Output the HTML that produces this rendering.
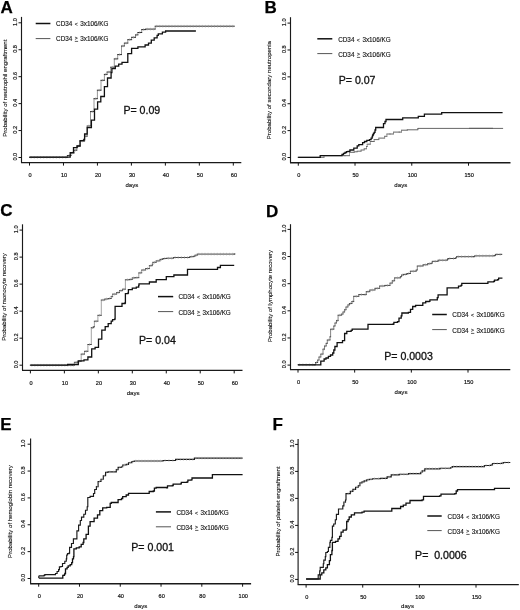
<!DOCTYPE html>
<html><head><meta charset="utf-8"><style>
html,body{margin:0;padding:0;background:#fff;}
svg{display:block;filter:grayscale(1);}
text{font-family:"Liberation Sans", sans-serif;}
</style></head><body>
<svg width="520" height="610" viewBox="0 0 520 610">
<rect width="520" height="610" fill="#fff"/>
<path d="M21.5,16.9 V162.6" fill="none" stroke="#1a1a1a" stroke-width="1.15"/>
<path d="M21,162.6 H241.3" fill="none" stroke="#1a1a1a" stroke-width="1.4"/>
<line x1="18.5" y1="157.5" x2="21.5" y2="157.5" stroke="#111" stroke-width="1"/>
<text x="14.6" y="156.7" transform="rotate(-90 14.6 156.7)" text-anchor="middle" dominant-baseline="central" font-size="5.6" fill="#111" stroke="#111" stroke-width="0.18">0.0</text>
<line x1="18.5" y1="130.56" x2="21.5" y2="130.56" stroke="#111" stroke-width="1"/>
<text x="14.6" y="129.76" transform="rotate(-90 14.6 129.76)" text-anchor="middle" dominant-baseline="central" font-size="5.6" fill="#111" stroke="#111" stroke-width="0.18">0.2</text>
<line x1="18.5" y1="103.62" x2="21.5" y2="103.62" stroke="#111" stroke-width="1"/>
<text x="14.6" y="102.82" transform="rotate(-90 14.6 102.82)" text-anchor="middle" dominant-baseline="central" font-size="5.6" fill="#111" stroke="#111" stroke-width="0.18">0.4</text>
<line x1="18.5" y1="76.68" x2="21.5" y2="76.68" stroke="#111" stroke-width="1"/>
<text x="14.6" y="75.88" transform="rotate(-90 14.6 75.88)" text-anchor="middle" dominant-baseline="central" font-size="5.6" fill="#111" stroke="#111" stroke-width="0.18">0.6</text>
<line x1="18.5" y1="49.74" x2="21.5" y2="49.74" stroke="#111" stroke-width="1"/>
<text x="14.6" y="48.94" transform="rotate(-90 14.6 48.94)" text-anchor="middle" dominant-baseline="central" font-size="5.6" fill="#111" stroke="#111" stroke-width="0.18">0.8</text>
<line x1="18.5" y1="22.8" x2="21.5" y2="22.8" stroke="#111" stroke-width="1"/>
<text x="14.6" y="22" transform="rotate(-90 14.6 22)" text-anchor="middle" dominant-baseline="central" font-size="5.6" fill="#111" stroke="#111" stroke-width="0.18">1.0</text>
<line x1="29.5" y1="162.6" x2="29.5" y2="165.6" stroke="#111" stroke-width="1"/>
<text x="30.1" y="174.7" text-anchor="middle" dominant-baseline="central" font-size="5.6" fill="#111" stroke="#111" stroke-width="0.18">0</text>
<line x1="63.47" y1="162.6" x2="63.47" y2="165.6" stroke="#111" stroke-width="1"/>
<text x="64.07" y="174.7" text-anchor="middle" dominant-baseline="central" font-size="5.6" fill="#111" stroke="#111" stroke-width="0.18">10</text>
<line x1="97.43" y1="162.6" x2="97.43" y2="165.6" stroke="#111" stroke-width="1"/>
<text x="98.03" y="174.7" text-anchor="middle" dominant-baseline="central" font-size="5.6" fill="#111" stroke="#111" stroke-width="0.18">20</text>
<line x1="131.4" y1="162.6" x2="131.4" y2="165.6" stroke="#111" stroke-width="1"/>
<text x="132" y="174.7" text-anchor="middle" dominant-baseline="central" font-size="5.6" fill="#111" stroke="#111" stroke-width="0.18">30</text>
<line x1="165.37" y1="162.6" x2="165.37" y2="165.6" stroke="#111" stroke-width="1"/>
<text x="165.97" y="174.7" text-anchor="middle" dominant-baseline="central" font-size="5.6" fill="#111" stroke="#111" stroke-width="0.18">40</text>
<line x1="199.33" y1="162.6" x2="199.33" y2="165.6" stroke="#111" stroke-width="1"/>
<text x="199.93" y="174.7" text-anchor="middle" dominant-baseline="central" font-size="5.6" fill="#111" stroke="#111" stroke-width="0.18">50</text>
<line x1="233.3" y1="162.6" x2="233.3" y2="165.6" stroke="#111" stroke-width="1"/>
<text x="233.9" y="174.7" text-anchor="middle" dominant-baseline="central" font-size="5.6" fill="#111" stroke="#111" stroke-width="0.18">60</text>
<text x="131.9" y="184.2" text-anchor="middle" dominant-baseline="central" font-size="6.1" fill="#111" stroke="#111" stroke-width="0.12">days</text>
<text x="4.6" y="88.2" transform="rotate(-90 4.6 88.2)" text-anchor="middle" dominant-baseline="central" font-size="6.05" fill="#111" stroke="#111" stroke-width="0.12">Probability of neutrophil engraftment</text>
<text x="0.5" y="13.3" font-size="17" font-weight="bold" fill="#000" stroke="#000" stroke-width="0.25">A</text>
<line x1="35.7" y1="23.5" x2="50.4" y2="23.5" stroke="#111" stroke-width="1.5"/>
<line x1="35.7" y1="38.6" x2="50.4" y2="38.6" stroke="#555" stroke-width="1"/>
<text x="56.1" y="26" font-size="6.35" fill="#1a1a1a" stroke="#1a1a1a" stroke-width="0.15">CD34</text>
<text x="74.7" y="25.7" font-size="5.2" fill="#1a1a1a" stroke="#1a1a1a" stroke-width="0.12">&lt;</text>
<text x="80.3" y="26" font-size="6.35" fill="#1a1a1a" stroke="#1a1a1a" stroke-width="0.15">3x106/KG</text>
<text x="56.1" y="41" font-size="6.35" fill="#1a1a1a" stroke="#1a1a1a" stroke-width="0.15">CD34</text>
<text x="74.8" y="40.4" font-size="5" fill="#1a1a1a" stroke="#1a1a1a" stroke-width="0.12">&gt;</text>
<path d="M74.8,41.4h3.3" stroke="#333" stroke-width="0.8"/>
<text x="80.3" y="41" font-size="6.35" fill="#1a1a1a" stroke="#1a1a1a" stroke-width="0.15">3x106/KG</text>
<text x="123.4" y="114" font-size="10.6" fill="#111" stroke="#111" stroke-width="0.3" xml:space="preserve">P= 0.09</text>
<path d="M67.4,157.3V155.5M71,155.5V153M74,153V150.2M76.8,150.2V146M80,146V141M84.6,141V136.2M87.2,136.2V126M90.5,126V111.6M94,111.6V98.7M97.4,98.7V90.2M101,90.2V80.3M104.4,80.3V74.4M107.1,74.4V72M110.7,72V67.2M114.3,67.2V58.9M117.7,58.9V54.6M121.5,54.6V46M124.4,46V43.1M127.8,43.1V39.7M131.6,39.7V37.3M135.5,37.3V34.9M137.9,34.9V32.5M141.7,32.5V29.6M145.6,29.6V29.1M155.2,29.1V26.2" fill="none" stroke="#8a8a8a" stroke-width="0.9"/>
<path d="M29.5,157.3H67.4M67.4,155.5H71M71,153H74M74,150.2H76.8M76.8,146H80M80,141H84.6M84.6,136.2H87.2M87.2,126H90.5M90.5,111.6H94M94,98.7H97.4M97.4,90.2H101M101,80.3H104.4M104.4,74.4H107.1M107.1,72H110.7M110.7,67.2H114.3M114.3,58.9H117.7M117.7,54.6H121.5M121.5,46H124.4M124.4,43.1H127.8M127.8,39.7H131.6M131.6,37.3H135.5M135.5,34.9H137.9M137.9,32.5H141.7M141.7,29.6H145.6M145.6,29.1H155.2M155.2,26.2H234.3" fill="none" stroke="#2a2a2a" stroke-width="1" stroke-linecap="square"/>
<path d="M31.08,156V158.6M34.24,156V158.6M37.4,156V158.6M40.55,156V158.6M43.71,156V158.6M46.87,156V158.6M50.03,156V158.6M53.19,156V158.6M56.35,156V158.6M59.5,156V158.6M62.66,156V158.6M65.82,156V158.6M69.2,154.2V156.8M72.5,151.7V154.3M75.4,148.9V151.5M78.4,144.7V147.3M82.3,139.7V142.3M85.9,134.9V137.5M88.85,124.7V127.3M92.25,110.3V112.9M95.7,97.4V100M99.2,88.9V91.5M102.7,79V81.6M105.75,73.1V75.7M108.9,70.7V73.3M112.5,65.9V68.5M116,57.6V60.2M119.6,53.3V55.9M122.95,44.7V47.3M126.1,41.8V44.4M129.7,38.4V41M133.55,36V38.6M136.7,33.6V36.2M139.8,31.2V33.8M143.65,28.3V30.9M147.2,27.8V30.4M150.4,27.8V30.4M153.6,27.8V30.4M156.72,24.9V27.5M159.76,24.9V27.5M162.81,24.9V27.5M165.85,24.9V27.5M168.89,24.9V27.5M171.93,24.9V27.5M174.97,24.9V27.5M178.02,24.9V27.5M181.06,24.9V27.5M184.1,24.9V27.5M187.14,24.9V27.5M190.19,24.9V27.5M193.23,24.9V27.5M196.27,24.9V27.5M199.31,24.9V27.5M202.36,24.9V27.5M205.4,24.9V27.5M208.44,24.9V27.5M211.48,24.9V27.5M214.53,24.9V27.5M217.57,24.9V27.5M220.61,24.9V27.5M223.65,24.9V27.5M226.69,24.9V27.5M229.74,24.9V27.5M232.78,24.9V27.5" fill="none" stroke="#999" stroke-width="0.6"/>
<polyline points="29.5,157.1 70.2,157.1 70.2,152.6 73.5,152.6 73.5,147.7 77.2,147.7 77.2,146 80.1,146 80.1,140.7 83.8,140.7 83.8,139.5 84.6,139.5 84.6,134 87.2,134 87.2,127.6 91.4,127.6 91.4,120.2 94.5,120.2 94.5,109.1 97.6,109.1 97.6,101.9 100.8,101.9 100.8,96.5 104.4,96.5 104.4,86.6 107.5,86.6 107.5,78 111.1,78 111.1,72.6 111.9,72.6 111.9,68.6 115.3,68.6 115.3,66.2 118.7,66.2 118.7,64.2 122,64.2 122,62.3 127.8,62.3 127.8,53.7 131.6,53.7 131.6,48.4 137.9,48.4 137.9,46.9 145.1,46.9 145.1,45 148.5,45 148.5,43.1 151.3,43.1 151.3,40.2 154.2,40.2 154.2,37.8 157.1,37.8 157.1,35.4 158.3,35.4 158.3,33.8 162.4,33.8 162.4,32.2 165.6,32.2 165.6,31 195.9,31" fill="none" stroke="#111" stroke-width="1.3"/>
<path d="M290.5,17.2 V162.7" fill="none" stroke="#1a1a1a" stroke-width="1.15"/>
<path d="M290,162.7 H510.5" fill="none" stroke="#1a1a1a" stroke-width="1.4"/>
<line x1="287.5" y1="157.5" x2="290.5" y2="157.5" stroke="#111" stroke-width="1"/>
<text x="283.6" y="156.7" transform="rotate(-90 283.6 156.7)" text-anchor="middle" dominant-baseline="central" font-size="5.6" fill="#111" stroke="#111" stroke-width="0.18">0.0</text>
<line x1="287.5" y1="130.62" x2="290.5" y2="130.62" stroke="#111" stroke-width="1"/>
<text x="283.6" y="129.82" transform="rotate(-90 283.6 129.82)" text-anchor="middle" dominant-baseline="central" font-size="5.6" fill="#111" stroke="#111" stroke-width="0.18">0.2</text>
<line x1="287.5" y1="103.74" x2="290.5" y2="103.74" stroke="#111" stroke-width="1"/>
<text x="283.6" y="102.94" transform="rotate(-90 283.6 102.94)" text-anchor="middle" dominant-baseline="central" font-size="5.6" fill="#111" stroke="#111" stroke-width="0.18">0.4</text>
<line x1="287.5" y1="76.86" x2="290.5" y2="76.86" stroke="#111" stroke-width="1"/>
<text x="283.6" y="76.06" transform="rotate(-90 283.6 76.06)" text-anchor="middle" dominant-baseline="central" font-size="5.6" fill="#111" stroke="#111" stroke-width="0.18">0.6</text>
<line x1="287.5" y1="49.98" x2="290.5" y2="49.98" stroke="#111" stroke-width="1"/>
<text x="283.6" y="49.18" transform="rotate(-90 283.6 49.18)" text-anchor="middle" dominant-baseline="central" font-size="5.6" fill="#111" stroke="#111" stroke-width="0.18">0.8</text>
<line x1="287.5" y1="23.1" x2="290.5" y2="23.1" stroke="#111" stroke-width="1"/>
<text x="283.6" y="22.3" transform="rotate(-90 283.6 22.3)" text-anchor="middle" dominant-baseline="central" font-size="5.6" fill="#111" stroke="#111" stroke-width="0.18">1.0</text>
<line x1="298.3" y1="162.7" x2="298.3" y2="165.7" stroke="#111" stroke-width="1"/>
<text x="298.9" y="174.7" text-anchor="middle" dominant-baseline="central" font-size="5.6" fill="#111" stroke="#111" stroke-width="0.18">0</text>
<line x1="355.03" y1="162.7" x2="355.03" y2="165.7" stroke="#111" stroke-width="1"/>
<text x="355.63" y="174.7" text-anchor="middle" dominant-baseline="central" font-size="5.6" fill="#111" stroke="#111" stroke-width="0.18">50</text>
<line x1="411.77" y1="162.7" x2="411.77" y2="165.7" stroke="#111" stroke-width="1"/>
<text x="412.37" y="174.7" text-anchor="middle" dominant-baseline="central" font-size="5.6" fill="#111" stroke="#111" stroke-width="0.18">100</text>
<line x1="468.5" y1="162.7" x2="468.5" y2="165.7" stroke="#111" stroke-width="1"/>
<text x="469.1" y="174.7" text-anchor="middle" dominant-baseline="central" font-size="5.6" fill="#111" stroke="#111" stroke-width="0.18">150</text>
<text x="400.8" y="184.6" text-anchor="middle" dominant-baseline="central" font-size="6.1" fill="#111" stroke="#111" stroke-width="0.12">days</text>
<text x="269.3" y="90.1" transform="rotate(-90 269.3 90.1)" text-anchor="middle" dominant-baseline="central" font-size="6.05" fill="#111" stroke="#111" stroke-width="0.12">Probability of secondary neutropenia</text>
<text x="264.5" y="13.3" font-size="17" font-weight="bold" fill="#000" stroke="#000" stroke-width="0.25">B</text>
<line x1="317.3" y1="38.8" x2="332.3" y2="38.8" stroke="#111" stroke-width="1.5"/>
<line x1="317.3" y1="53.6" x2="332.3" y2="53.6" stroke="#555" stroke-width="1"/>
<text x="338.2" y="42" font-size="6.35" fill="#1a1a1a" stroke="#1a1a1a" stroke-width="0.15">CD34</text>
<text x="356.8" y="41.7" font-size="5.2" fill="#1a1a1a" stroke="#1a1a1a" stroke-width="0.12">&lt;</text>
<text x="362.4" y="42" font-size="6.35" fill="#1a1a1a" stroke="#1a1a1a" stroke-width="0.15">3x106/KG</text>
<text x="338.2" y="57" font-size="6.35" fill="#1a1a1a" stroke="#1a1a1a" stroke-width="0.15">CD34</text>
<text x="356.9" y="56.4" font-size="5" fill="#1a1a1a" stroke="#1a1a1a" stroke-width="0.12">&gt;</text>
<path d="M356.9,57.4h3.3" stroke="#333" stroke-width="0.8"/>
<text x="362.4" y="57" font-size="6.35" fill="#1a1a1a" stroke="#1a1a1a" stroke-width="0.15">3x106/KG</text>
<text x="338.7" y="83.5" font-size="10.6" fill="#111" stroke="#111" stroke-width="0.3" xml:space="preserve">P= 0.07</text>
<path d="M469,128.4H493" stroke="#333" stroke-width="1.1"/>
<path d="M324,157.3V155.7M349.5,155.7V152.3M354.2,152.3V151.8M357.2,151.8V151.2M361.1,151.2V150M364.2,150V148.8M366.5,148.8V146.5M367.2,146.5V144.2M370.3,144.2V141.5M374.2,141.5V139.6M378.8,139.6V138.1M384.6,138.1V136.3M386.9,136.3V134M393.5,134V132.1M401.5,132.1V130.2M407.3,130.2V129.8M417.7,129.8V128.8M418.3,128.8V128.4" fill="none" stroke="#9a9a9a" stroke-width="0.9"/>
<path d="M298.1,157.3H324M324,155.7H345M345,155.7H349.5M349.5,152.3H354.2M354.2,151.8H357.2M357.2,151.2H361.1M361.1,150H364.2M364.2,148.8H366.5M366.5,146.5H367.2M367.2,144.2H370.3M370.3,141.5H374.2M374.2,139.6H378.8M378.8,138.1H384.6M384.6,136.3H386.9M386.9,134H390M390,134H393.5M393.5,132.1H399.2M399.2,132.1H401.5M401.5,130.2H407.3M407.3,129.8H417.7M417.7,128.8H418.3M418.3,128.4H502.6" fill="none" stroke="#666" stroke-width="1" stroke-linecap="square"/>
<polyline points="298.1,157.3 320.2,157.3 320.2,155.6 340.8,155.6 342,155.6 342,154.5 343.5,154.5 343.5,153.4 345,153.4 345,152.5 346.5,152.5 346.5,151.6 348,151.6 348,151.3 349.9,151.3 349.9,150 353.8,150 353.8,148.1 357.2,148.1 357.2,145.8 358.8,145.8 358.8,144.6 362.6,144.6 362.6,142.7 364.5,142.7 364.5,141.5 366.8,141.5 366.8,140.4 369.5,140.4 369.5,139.6 371.1,139.6 371.1,138.1 372.2,138.1 372.2,136.5 372.6,136.5 372.6,135 373.4,135 373.4,133.5 374.2,133.5 374.2,132.3 375,132.3 375,130 375.7,130 375.7,127.5 383,127.5 383.5,127.5 383.5,123.7 385,123.7 385,121.5 386,121.5 386,119.5 401.5,119.5 402.7,119.5 402.7,117.9 417.7,117.9 418.3,117.9 418.3,116.4 423.5,116.4 424.4,116.4 424.4,114.1 440.8,114.1 441.7,114.1 441.7,112.6 502.6,112.6" fill="none" stroke="#111" stroke-width="1.3"/>
<path d="M22.5,224.3 V370.4" fill="none" stroke="#1a1a1a" stroke-width="1.15"/>
<path d="M22,370.4 H242.5" fill="none" stroke="#1a1a1a" stroke-width="1.4"/>
<line x1="19.5" y1="365.2" x2="22.5" y2="365.2" stroke="#111" stroke-width="1"/>
<text x="16.4" y="364.4" transform="rotate(-90 16.4 364.4)" text-anchor="middle" dominant-baseline="central" font-size="5.6" fill="#111" stroke="#111" stroke-width="0.18">0.0</text>
<line x1="19.5" y1="338.18" x2="22.5" y2="338.18" stroke="#111" stroke-width="1"/>
<text x="16.4" y="337.38" transform="rotate(-90 16.4 337.38)" text-anchor="middle" dominant-baseline="central" font-size="5.6" fill="#111" stroke="#111" stroke-width="0.18">0.2</text>
<line x1="19.5" y1="311.16" x2="22.5" y2="311.16" stroke="#111" stroke-width="1"/>
<text x="16.4" y="310.36" transform="rotate(-90 16.4 310.36)" text-anchor="middle" dominant-baseline="central" font-size="5.6" fill="#111" stroke="#111" stroke-width="0.18">0.4</text>
<line x1="19.5" y1="284.14" x2="22.5" y2="284.14" stroke="#111" stroke-width="1"/>
<text x="16.4" y="283.34" transform="rotate(-90 16.4 283.34)" text-anchor="middle" dominant-baseline="central" font-size="5.6" fill="#111" stroke="#111" stroke-width="0.18">0.6</text>
<line x1="19.5" y1="257.12" x2="22.5" y2="257.12" stroke="#111" stroke-width="1"/>
<text x="16.4" y="256.32" transform="rotate(-90 16.4 256.32)" text-anchor="middle" dominant-baseline="central" font-size="5.6" fill="#111" stroke="#111" stroke-width="0.18">0.8</text>
<line x1="19.5" y1="230.1" x2="22.5" y2="230.1" stroke="#111" stroke-width="1"/>
<text x="16.4" y="229.3" transform="rotate(-90 16.4 229.3)" text-anchor="middle" dominant-baseline="central" font-size="5.6" fill="#111" stroke="#111" stroke-width="0.18">1.0</text>
<line x1="30.4" y1="370.4" x2="30.4" y2="373.4" stroke="#111" stroke-width="1"/>
<text x="31" y="382.8" text-anchor="middle" dominant-baseline="central" font-size="5.6" fill="#111" stroke="#111" stroke-width="0.18">0</text>
<line x1="64.37" y1="370.4" x2="64.37" y2="373.4" stroke="#111" stroke-width="1"/>
<text x="64.97" y="382.8" text-anchor="middle" dominant-baseline="central" font-size="5.6" fill="#111" stroke="#111" stroke-width="0.18">10</text>
<line x1="98.33" y1="370.4" x2="98.33" y2="373.4" stroke="#111" stroke-width="1"/>
<text x="98.93" y="382.8" text-anchor="middle" dominant-baseline="central" font-size="5.6" fill="#111" stroke="#111" stroke-width="0.18">20</text>
<line x1="132.3" y1="370.4" x2="132.3" y2="373.4" stroke="#111" stroke-width="1"/>
<text x="132.9" y="382.8" text-anchor="middle" dominant-baseline="central" font-size="5.6" fill="#111" stroke="#111" stroke-width="0.18">30</text>
<line x1="166.27" y1="370.4" x2="166.27" y2="373.4" stroke="#111" stroke-width="1"/>
<text x="166.87" y="382.8" text-anchor="middle" dominant-baseline="central" font-size="5.6" fill="#111" stroke="#111" stroke-width="0.18">40</text>
<line x1="200.23" y1="370.4" x2="200.23" y2="373.4" stroke="#111" stroke-width="1"/>
<text x="200.83" y="382.8" text-anchor="middle" dominant-baseline="central" font-size="5.6" fill="#111" stroke="#111" stroke-width="0.18">50</text>
<line x1="234.2" y1="370.4" x2="234.2" y2="373.4" stroke="#111" stroke-width="1"/>
<text x="234.8" y="382.8" text-anchor="middle" dominant-baseline="central" font-size="5.6" fill="#111" stroke="#111" stroke-width="0.18">60</text>
<text x="133.1" y="392.6" text-anchor="middle" dominant-baseline="central" font-size="6.1" fill="#111" stroke="#111" stroke-width="0.12">days</text>
<text x="3.7" y="297" transform="rotate(-90 3.7 297)" text-anchor="middle" dominant-baseline="central" font-size="6.05" fill="#111" stroke="#111" stroke-width="0.12">Probability of monocyte recovery</text>
<text x="0.3" y="216.3" font-size="17" font-weight="bold" fill="#000" stroke="#000" stroke-width="0.25">C</text>
<line x1="158" y1="296.6" x2="173.2" y2="296.6" stroke="#111" stroke-width="1.5"/>
<line x1="158" y1="311.6" x2="173.2" y2="311.6" stroke="#555" stroke-width="1"/>
<text x="178.4" y="299" font-size="6.35" fill="#1a1a1a" stroke="#1a1a1a" stroke-width="0.15">CD34</text>
<text x="197" y="298.7" font-size="5.2" fill="#1a1a1a" stroke="#1a1a1a" stroke-width="0.12">&lt;</text>
<text x="202.6" y="299" font-size="6.35" fill="#1a1a1a" stroke="#1a1a1a" stroke-width="0.15">3x106/KG</text>
<text x="178.4" y="315" font-size="6.35" fill="#1a1a1a" stroke="#1a1a1a" stroke-width="0.15">CD34</text>
<text x="197.1" y="314.4" font-size="5" fill="#1a1a1a" stroke="#1a1a1a" stroke-width="0.12">&gt;</text>
<path d="M197.1,315.4h3.3" stroke="#333" stroke-width="0.8"/>
<text x="202.6" y="315" font-size="6.35" fill="#1a1a1a" stroke="#1a1a1a" stroke-width="0.15">3x106/KG</text>
<text x="139" y="344.4" font-size="10.6" fill="#111" stroke="#111" stroke-width="0.3" xml:space="preserve">P= 0.04</text>
<path d="M74.4,365.2V362.3M78,362.3V361.3M81.2,361.3V354.1M84.5,354.1V351.3M87.9,351.3V344.5M91.3,344.5V327.7M93.7,327.7V326.7M94.4,326.7V321.2M97.9,321.2V315.3M101.3,315.3V314.8M101.3,314.8V300M104.8,300V299M108.2,299V298.5M111.2,298.5V296.6M112.6,296.6V294.1M116.6,294.1V292.6M119.5,292.6V290.7M122.5,290.7V289.2M125.4,289.2V288.2M125.4,288.2V279.8M129.4,279.8V279.4M132.3,279.4V277.9M135,277.9V277.7M138.8,277.7V272.9M141.7,272.9V270M145.6,270V268.6M149.4,268.6V265.7M152.3,265.7V264.2M152.8,264.2V262.3M156.2,262.3V260.9M160,260.9V259.4M162.9,259.4V258.5M166.7,258.5V258.2M173.5,258.2V257.5M189.8,257.5V256.7M193.8,256.7V256.2M195,256.2V255.2M197.3,255.2V254.1M234.8,254.1V253.3" fill="none" stroke="#999" stroke-width="0.9"/>
<path d="M30.3,365.2H72.3M72.3,365.2H74.4M74.4,362.3H78M78,361.3H81.2M81.2,354.1H84.5M84.5,351.3H87.9M87.9,344.5H91.3M91.3,327.7H93.7M93.7,326.7H94.4M94.4,321.2H97.9M97.9,315.3H101.3M101.3,300H104.8M104.8,299H108.2M108.2,298.5H111.2M111.2,296.6H112.6M112.6,294.1H116.6M116.6,292.6H119.5M119.5,290.7H122.5M122.5,289.2H125.4M125.4,279.8H129.4M129.4,279.4H132.3M132.3,277.9H135M135,277.7H138.8M138.8,272.9H141.7M141.7,270H145.6M145.6,268.6H149.4M149.4,265.7H152.3M152.3,264.2H152.8M152.8,262.3H156.2M156.2,260.9H160M160,259.4H162.9M162.9,258.5H166.7M166.7,258.2H173.5M173.5,257.5H189.2M189.2,257.5H189.8M189.8,256.7H193.8M193.8,256.2H195M195,255.2H197.3M197.3,254.1H234.2M234.2,254.1H234.8" fill="none" stroke="#444" stroke-width="1" stroke-linecap="square"/>
<path d="M31.8,363.9V366.5M34.8,363.9V366.5M37.8,363.9V366.5M40.8,363.9V366.5M43.8,363.9V366.5M46.8,363.9V366.5M49.8,363.9V366.5M52.8,363.9V366.5M55.8,363.9V366.5M58.8,363.9V366.5M61.8,363.9V366.5M64.8,363.9V366.5M67.8,363.9V366.5M70.8,363.9V366.5M73.35,363.9V366.5M76.2,361V363.6M79.6,360V362.6M82.85,352.8V355.4M86.2,350V352.6M89.6,343.2V345.8M92.5,326.4V329M96.15,319.9V322.5M99.6,314V316.6M103.05,298.7V301.3M106.5,297.7V300.3M109.7,297.2V299.8M111.9,295.3V297.9M114.6,292.8V295.4M118.05,291.3V293.9M121,289.4V292M123.95,287.9V290.5M127.4,278.5V281.1M130.85,278.1V280.7M133.65,276.6V279.2M136.9,276.4V279M140.25,271.6V274.2M143.65,268.7V271.3M147.5,267.3V269.9M150.85,264.4V267M154.5,261V263.6M158.1,259.6V262.2M161.45,258.1V260.7M164.8,257.2V259.8M168.4,256.9V259.5M171.8,256.9V259.5M175.07,256.2V258.8M178.21,256.2V258.8M181.35,256.2V258.8M184.49,256.2V258.8M187.63,256.2V258.8M191.8,255.4V258M196.15,253.9V256.5M198.84,252.8V255.4M201.91,252.8V255.4M204.99,252.8V255.4M208.06,252.8V255.4M211.14,252.8V255.4M214.21,252.8V255.4M217.29,252.8V255.4M220.36,252.8V255.4M223.44,252.8V255.4M226.51,252.8V255.4M229.59,252.8V255.4M232.66,252.8V255.4" fill="none" stroke="#999" stroke-width="0.6"/>
<polyline points="30.3,365.2 67.7,365.2 67.7,364.5 78.3,364.5 78.3,360.9 84,360.9 84,359.9 87.9,359.9 87.9,358.5 87.9,357 91.7,357 91.7,348.8 95.1,348.8 95.1,347.4 98.5,347.4 98.5,339.2 101.8,339.2 101.8,330.1 104.5,330.1 105.2,330.1 105.2,326.7 107.7,326.7 108.2,326.7 108.2,323.6 111.2,323.6 111.2,321.2 112.6,321.2 112.6,319.7 114.6,319.7 114.6,319.2 115.1,319.2 115.1,306.4 121.5,306.4 122,306.4 122,303.5 124.9,303.5 124.9,303 125.4,303 125.4,293.6 127.9,293.6 127.9,293.1 128.4,293.1 128.4,289.7 132.3,289.7 132.3,288.2 136.3,288.2 136.3,287.2 138.7,287.2 138.7,285.3 139,285.3 139,283.9 148.9,283.9 149.4,283.9 149.4,282 155.7,282 156.2,282 156.2,279.6 165.8,279.6 166.3,279.6 166.3,276.7 173.5,276.7 173.9,276.7 173.9,275 187.5,275 187.5,274.8 187.5,269.4 217.5,269.4 217.5,267.5 220.4,267.5 220.4,265.4 234.2,265.4" fill="none" stroke="#111" stroke-width="1.3"/>
<path d="M290.5,224.2 V369.6" fill="none" stroke="#1a1a1a" stroke-width="1.15"/>
<path d="M290,369.6 H510.3" fill="none" stroke="#1a1a1a" stroke-width="1.4"/>
<line x1="287.5" y1="365.1" x2="290.5" y2="365.1" stroke="#111" stroke-width="1"/>
<text x="283.8" y="364.3" transform="rotate(-90 283.8 364.3)" text-anchor="middle" dominant-baseline="central" font-size="5.6" fill="#111" stroke="#111" stroke-width="0.18">0.0</text>
<line x1="287.5" y1="337.96" x2="290.5" y2="337.96" stroke="#111" stroke-width="1"/>
<text x="283.8" y="337.16" transform="rotate(-90 283.8 337.16)" text-anchor="middle" dominant-baseline="central" font-size="5.6" fill="#111" stroke="#111" stroke-width="0.18">0.2</text>
<line x1="287.5" y1="310.82" x2="290.5" y2="310.82" stroke="#111" stroke-width="1"/>
<text x="283.8" y="310.02" transform="rotate(-90 283.8 310.02)" text-anchor="middle" dominant-baseline="central" font-size="5.6" fill="#111" stroke="#111" stroke-width="0.18">0.4</text>
<line x1="287.5" y1="283.68" x2="290.5" y2="283.68" stroke="#111" stroke-width="1"/>
<text x="283.8" y="282.88" transform="rotate(-90 283.8 282.88)" text-anchor="middle" dominant-baseline="central" font-size="5.6" fill="#111" stroke="#111" stroke-width="0.18">0.6</text>
<line x1="287.5" y1="256.54" x2="290.5" y2="256.54" stroke="#111" stroke-width="1"/>
<text x="283.8" y="255.74" transform="rotate(-90 283.8 255.74)" text-anchor="middle" dominant-baseline="central" font-size="5.6" fill="#111" stroke="#111" stroke-width="0.18">0.8</text>
<line x1="287.5" y1="229.4" x2="290.5" y2="229.4" stroke="#111" stroke-width="1"/>
<text x="283.8" y="228.6" transform="rotate(-90 283.8 228.6)" text-anchor="middle" dominant-baseline="central" font-size="5.6" fill="#111" stroke="#111" stroke-width="0.18">1.0</text>
<line x1="298" y1="369.6" x2="298" y2="372.6" stroke="#111" stroke-width="1"/>
<text x="298.6" y="382" text-anchor="middle" dominant-baseline="central" font-size="5.6" fill="#111" stroke="#111" stroke-width="0.18">0</text>
<line x1="354.67" y1="369.6" x2="354.67" y2="372.6" stroke="#111" stroke-width="1"/>
<text x="355.27" y="382" text-anchor="middle" dominant-baseline="central" font-size="5.6" fill="#111" stroke="#111" stroke-width="0.18">50</text>
<line x1="411.33" y1="369.6" x2="411.33" y2="372.6" stroke="#111" stroke-width="1"/>
<text x="411.93" y="382" text-anchor="middle" dominant-baseline="central" font-size="5.6" fill="#111" stroke="#111" stroke-width="0.18">100</text>
<line x1="468" y1="369.6" x2="468" y2="372.6" stroke="#111" stroke-width="1"/>
<text x="468.6" y="382" text-anchor="middle" dominant-baseline="central" font-size="5.6" fill="#111" stroke="#111" stroke-width="0.18">150</text>
<text x="401" y="391.7" text-anchor="middle" dominant-baseline="central" font-size="6.1" fill="#111" stroke="#111" stroke-width="0.12">days</text>
<text x="269.8" y="296" transform="rotate(-90 269.8 296)" text-anchor="middle" dominant-baseline="central" font-size="6.05" fill="#111" stroke="#111" stroke-width="0.12">Probability of lymphocyte recovery</text>
<text x="265.9" y="216.5" font-size="17" font-weight="bold" fill="#000" stroke="#000" stroke-width="0.25">D</text>
<line x1="432.2" y1="314.5" x2="446.8" y2="314.5" stroke="#111" stroke-width="1.5"/>
<line x1="432.2" y1="329.6" x2="446.8" y2="329.6" stroke="#555" stroke-width="1"/>
<text x="452.3" y="317" font-size="6.35" fill="#1a1a1a" stroke="#1a1a1a" stroke-width="0.15">CD34</text>
<text x="470.9" y="316.7" font-size="5.2" fill="#1a1a1a" stroke="#1a1a1a" stroke-width="0.12">&lt;</text>
<text x="476.5" y="317" font-size="6.35" fill="#1a1a1a" stroke="#1a1a1a" stroke-width="0.15">3x106/KG</text>
<text x="452.3" y="333" font-size="6.35" fill="#1a1a1a" stroke="#1a1a1a" stroke-width="0.15">CD34</text>
<text x="471" y="332.4" font-size="5" fill="#1a1a1a" stroke="#1a1a1a" stroke-width="0.12">&gt;</text>
<path d="M471,333.4h3.3" stroke="#333" stroke-width="0.8"/>
<text x="476.5" y="333" font-size="6.35" fill="#1a1a1a" stroke="#1a1a1a" stroke-width="0.15">3x106/KG</text>
<text x="384.2" y="360" font-size="10.6" fill="#111" stroke="#111" stroke-width="0.3" xml:space="preserve">P= 0.0003</text>
<path d="M315.5,364.8V362.5M317.6,362.5V360.1M319,360.1V357M320.8,357V354.1M323,354.1V349.2M324.5,349.2V346M326.2,346V343.3M327.3,343.3V340M330,340V336.8M330.6,336.8V329.2M333.8,329.2V326M335,326V323M336.5,323V320.6M338.1,320.6V315.2M341.4,315.2V314.1M343,314.1V312M344.6,312V309.7M346,309.7V307M347.9,307V304.9M349.5,304.9V303.5M351.9,303.5V301.5M353.7,301.5V296.3M358.8,296.3V294.6M366.3,294.6V291.7M369.8,291.7V290M375,290V288.3M379.6,288.3V286M384.8,286V285.4M390,285.4V283.1M392.3,283.1V280.8M394.6,280.8V277.9M400.4,277.9V276.7M401.5,276.7V275M403.5,275V274.4M406.9,274.4V273.5M410.4,273.5V271.2M416.2,271.2V270M417.3,270V266M423.1,266V264.8M427.7,264.8V263.7M431.2,263.7V263.1M432.3,263.1V261.3M438.1,261.3V260.2M447.3,260.2V259.6M447.9,259.6V258.5M455.4,258.5V257.9M456.5,257.9V256.7M474.6,256.7V255.9M494.2,255.9V255.6M495.4,255.6V254.4M501.7,254.4V253.8" fill="none" stroke="#777" stroke-width="0.9"/>
<path d="M298,364.8H314.3M314.3,364.8H315.5M315.5,362.5H317.6M317.6,360.1H319M319,357H320.8M320.8,354.1H323M323,349.2H324.5M324.5,346H326.2M326.2,343.3H327.3M327.3,340H330M330,336.8H330.6M330.6,329.2H333.8M333.8,326H335M335,323H336.5M336.5,320.6H338.1M338.1,315.2H341.4M341.4,314.1H343M343,312H344.6M344.6,309.7H346M346,307H347.9M347.9,304.9H349.5M349.5,303.5H351.9M351.9,301.5H353.7M353.7,296.3H358.8M358.8,294.6H364M364,294.6H366.3M366.3,291.7H369.8M369.8,290H375M375,288.3H379.6M379.6,286H384.8M384.8,285.4H390M390,283.1H392.3M392.3,280.8H394.6M394.6,277.9H400.4M400.4,276.7H401.5M401.5,275H403.5M403.5,274.4H406.9M406.9,273.5H410.4M410.4,271.2H416.2M416.2,270H417.3M417.3,266H423.1M423.1,264.8H427.7M427.7,263.7H431.2M431.2,263.1H432.3M432.3,261.3H438.1M438.1,260.2H447.3M447.3,259.6H447.9M447.9,258.5H455.4M455.4,257.9H456.5M456.5,256.7H473.5M473.5,256.7H474.6M474.6,255.9H494.2M494.2,255.6H495.4M495.4,254.4H501.7" fill="none" stroke="#444" stroke-width="1" stroke-linecap="square"/>
<path d="M299.63,363.5V366.1M302.89,363.5V366.1M306.15,363.5V366.1M309.41,363.5V366.1M312.67,363.5V366.1M316.55,361.2V363.8M318.3,358.8V361.4M319.9,355.7V358.3M321.9,352.8V355.4M323.75,347.9V350.5M325.35,344.7V347.3M328.65,338.7V341.3M332.2,327.9V330.5M335.75,321.7V324.3M337.3,319.3V321.9M339.75,313.9V316.5M342.2,312.8V315.4M343.8,310.7V313.3M345.3,308.4V311M346.95,305.7V308.3M348.7,303.6V306.2M350.7,302.2V304.8M352.8,300.2V302.8M356.25,295V297.6M361.4,293.3V295.9M365.15,293.3V295.9M368.05,290.4V293M372.4,288.7V291.3M377.3,287V289.6M382.2,284.7V287.3M387.4,284.1V286.7M391.15,281.8V284.4M393.45,279.5V282.1M397.5,276.6V279.2M402.5,273.7V276.3M405.2,273.1V275.7M408.65,272.2V274.8M413.3,269.9V272.5M420.2,264.7V267.3M425.4,263.5V266.1M429.45,262.4V265M435.2,260V262.6M439.63,258.9V261.5M442.7,258.9V261.5M445.77,258.9V261.5M449.77,257.2V259.8M453.52,257.2V259.8M458.2,255.4V258M461.6,255.4V258M465,255.4V258M468.4,255.4V258M471.8,255.4V258M476.23,254.6V257.2M479.5,254.6V257.2M482.77,254.6V257.2M486.03,254.6V257.2M489.3,254.6V257.2M492.57,254.6V257.2M496.97,253.1V255.7M500.12,253.1V255.7" fill="none" stroke="#999" stroke-width="0.6"/>
<polyline points="298,364.8 318.7,364.8 320.8,364.8 320.8,361.1 324.1,361.1 324.1,359 326,359 326,358 328.4,358 328.4,356.3 330.5,356.3 330.5,355 332.7,355 332.7,353 333.8,353 333.8,350 334.9,350 334.9,346.5 337.1,346.5 337.1,342.7 342.5,342.7 342.5,340.6 344.6,340.6 344.6,333.5 346.8,333.5 346.8,331.4 351.1,331.4 351.1,330.3 352.2,330.3 352.2,329.2 365.8,329.2 368,329.2 368,324.4 393.2,324.4 393.2,324 393.9,324 393.9,322.4 397.5,322.4 397.5,321.7 399,321.7 399,318.1 401.2,318.1 401.2,315.9 401.9,315.9 401.9,313 408.4,313 408.4,312.3 410.5,312.3 410.5,309.4 412.7,309.4 412.7,306.5 415.6,306.5 415.6,305.4 421.3,305.4 422.8,305.4 422.8,302.9 425.7,302.9 425.7,301.5 429.1,301.5 429.1,301.3 429.9,301.3 429.9,299.8 436.4,299.8 437.3,299.8 437.3,297.7 438.1,297.7 438.1,294.9 446.2,294.9 447.1,294.9 447.1,287.9 457.7,287.9 458.5,287.9 458.5,286.2 461,286.2 461,285.4 461.8,285.4 461.8,283.3 487.1,283.3 487.9,283.3 487.9,281.8 493.7,281.8 493.7,281.3 494.5,281.3 494.5,280.2 497.7,280.2 497.7,279.7 498.6,279.7 498.6,278.1 501.8,278.1 501.8,277.6" fill="none" stroke="#111" stroke-width="1.3"/>
<path d="M30.6,438.5 V583.7" fill="none" stroke="#1a1a1a" stroke-width="1.15"/>
<path d="M30.1,583.7 H251.1" fill="none" stroke="#1a1a1a" stroke-width="1.4"/>
<line x1="27.6" y1="578.5" x2="30.6" y2="578.5" stroke="#111" stroke-width="1"/>
<text x="22.8" y="577.7" transform="rotate(-90 22.8 577.7)" text-anchor="middle" dominant-baseline="central" font-size="5.6" fill="#111" stroke="#111" stroke-width="0.18">0.0</text>
<line x1="27.6" y1="551.64" x2="30.6" y2="551.64" stroke="#111" stroke-width="1"/>
<text x="22.8" y="550.84" transform="rotate(-90 22.8 550.84)" text-anchor="middle" dominant-baseline="central" font-size="5.6" fill="#111" stroke="#111" stroke-width="0.18">0.2</text>
<line x1="27.6" y1="524.78" x2="30.6" y2="524.78" stroke="#111" stroke-width="1"/>
<text x="22.8" y="523.98" transform="rotate(-90 22.8 523.98)" text-anchor="middle" dominant-baseline="central" font-size="5.6" fill="#111" stroke="#111" stroke-width="0.18">0.4</text>
<line x1="27.6" y1="497.92" x2="30.6" y2="497.92" stroke="#111" stroke-width="1"/>
<text x="22.8" y="497.12" transform="rotate(-90 22.8 497.12)" text-anchor="middle" dominant-baseline="central" font-size="5.6" fill="#111" stroke="#111" stroke-width="0.18">0.6</text>
<line x1="27.6" y1="471.06" x2="30.6" y2="471.06" stroke="#111" stroke-width="1"/>
<text x="22.8" y="470.26" transform="rotate(-90 22.8 470.26)" text-anchor="middle" dominant-baseline="central" font-size="5.6" fill="#111" stroke="#111" stroke-width="0.18">0.8</text>
<line x1="27.6" y1="444.2" x2="30.6" y2="444.2" stroke="#111" stroke-width="1"/>
<text x="22.8" y="443.4" transform="rotate(-90 22.8 443.4)" text-anchor="middle" dominant-baseline="central" font-size="5.6" fill="#111" stroke="#111" stroke-width="0.18">1.0</text>
<line x1="38.7" y1="583.7" x2="38.7" y2="586.7" stroke="#111" stroke-width="1"/>
<text x="39.3" y="596.4" text-anchor="middle" dominant-baseline="central" font-size="5.6" fill="#111" stroke="#111" stroke-width="0.18">0</text>
<line x1="79.48" y1="583.7" x2="79.48" y2="586.7" stroke="#111" stroke-width="1"/>
<text x="80.08" y="596.4" text-anchor="middle" dominant-baseline="central" font-size="5.6" fill="#111" stroke="#111" stroke-width="0.18">20</text>
<line x1="120.26" y1="583.7" x2="120.26" y2="586.7" stroke="#111" stroke-width="1"/>
<text x="120.86" y="596.4" text-anchor="middle" dominant-baseline="central" font-size="5.6" fill="#111" stroke="#111" stroke-width="0.18">40</text>
<line x1="161.04" y1="583.7" x2="161.04" y2="586.7" stroke="#111" stroke-width="1"/>
<text x="161.64" y="596.4" text-anchor="middle" dominant-baseline="central" font-size="5.6" fill="#111" stroke="#111" stroke-width="0.18">60</text>
<line x1="201.82" y1="583.7" x2="201.82" y2="586.7" stroke="#111" stroke-width="1"/>
<text x="202.42" y="596.4" text-anchor="middle" dominant-baseline="central" font-size="5.6" fill="#111" stroke="#111" stroke-width="0.18">80</text>
<line x1="242.6" y1="583.7" x2="242.6" y2="586.7" stroke="#111" stroke-width="1"/>
<text x="243.2" y="596.4" text-anchor="middle" dominant-baseline="central" font-size="5.6" fill="#111" stroke="#111" stroke-width="0.18">100</text>
<text x="140.8" y="605.4" text-anchor="middle" dominant-baseline="central" font-size="6.1" fill="#111" stroke="#111" stroke-width="0.12">days</text>
<text x="9.7" y="511.5" transform="rotate(-90 9.7 511.5)" text-anchor="middle" dominant-baseline="central" font-size="6.05" fill="#111" stroke="#111" stroke-width="0.12">Probability of hemoglobin recovery</text>
<text x="0.3" y="430.1" font-size="17" font-weight="bold" fill="#000" stroke="#000" stroke-width="0.25">E</text>
<line x1="155.9" y1="511.9" x2="171" y2="511.9" stroke="#111" stroke-width="1.5"/>
<line x1="155.9" y1="526.8" x2="171" y2="526.8" stroke="#555" stroke-width="1"/>
<text x="176.4" y="515" font-size="6.35" fill="#1a1a1a" stroke="#1a1a1a" stroke-width="0.15">CD34</text>
<text x="195" y="514.7" font-size="5.2" fill="#1a1a1a" stroke="#1a1a1a" stroke-width="0.12">&lt;</text>
<text x="200.6" y="515" font-size="6.35" fill="#1a1a1a" stroke="#1a1a1a" stroke-width="0.15">3x106/KG</text>
<text x="176.4" y="530" font-size="6.35" fill="#1a1a1a" stroke="#1a1a1a" stroke-width="0.15">CD34</text>
<text x="195.1" y="529.4" font-size="5" fill="#1a1a1a" stroke="#1a1a1a" stroke-width="0.12">&gt;</text>
<path d="M195.1,530.4h3.3" stroke="#333" stroke-width="0.8"/>
<text x="200.6" y="530" font-size="6.35" fill="#1a1a1a" stroke="#1a1a1a" stroke-width="0.15">3x106/KG</text>
<text x="131.3" y="551" font-size="10.6" fill="#111" stroke="#111" stroke-width="0.3" xml:space="preserve">P= 0.001</text>
<polyline points="38.8,578.1 38.8,575.7 38.8,575.8 44,575.8 44,575.4 44.8,575.4 44.8,574.6 54.8,574.6 55.5,574.6 55.5,573.5 57.1,573.5 57.1,571.5 58.6,571.5 58.6,569.6 59.4,569.6 59.4,566.9 60.9,566.9 60.9,566.5 62.5,566.5 62.5,563.5 64.8,563.5 64.8,561.2 66.3,561.2 66.3,558.8 66.7,558.8 66.7,555 67.5,555 67.5,553.6 69.1,553.6 69.1,553.1 69.6,553.1 69.6,547.3 71.5,547.3 71.5,543.5 73.4,543.5 73.4,538.9 76.9,538.9 76.9,530.8 78.6,530.8 78.6,525.1 80.3,525.1 80.3,520.5 81.5,520.5 81.5,517.1 83.8,517.1 83.8,514.2 85.5,514.2 85.5,510.2 87.2,510.2 87.2,506.7 87.8,506.7 87.8,497.5 90.1,497.5 90.1,496.4 93.5,496.4 93.5,493.5 94.7,493.5 94.7,489.5 96.4,489.5 96.4,486.6 98.1,486.6 98.1,481.5 101,481.5 101,479.2 103.3,479.2 103.3,475.7 105.6,475.7 105.6,472.3 107.9,472.3 107.9,471.9 115.8,471.9 116.3,471.9 116.3,469.6 118.1,469.6 118.1,467.3 121.5,467.3 121.5,466.7 122.7,466.7 122.7,465 126.2,465 126.2,464.4 128.5,464.4 128.5,462.7 131.9,462.7 131.9,461.5 134.2,461.5 134.2,461 161.9,461 163.1,461 163.1,460.5 174.8,460.5 175.6,460.5 175.6,459.4 191.2,459.4 194.4,459.4 194.4,458.1 242.6,458.1" fill="none" stroke="#1a1a1a" stroke-width="1.15"/>
<path d="M97.25,485.3V487.9M99.55,480.2V482.8M102.15,477.9V480.5M104.45,474.4V477M106.75,471V473.6M109.88,470.6V473.2M113.83,470.6V473.2M117.2,468.3V470.9M119.8,466V468.6M122.1,465.4V468M124.45,463.7V466.3M127.35,463.1V465.7M130.2,461.4V464M133.05,460.2V462.8M135.74,459.7V462.3M138.82,459.7V462.3M141.89,459.7V462.3M144.97,459.7V462.3M148.05,459.7V462.3M151.13,459.7V462.3M154.21,459.7V462.3M157.28,459.7V462.3M160.36,459.7V462.3M165.05,459.2V461.8M168.95,459.2V461.8M172.85,459.2V461.8M177.16,458.1V460.7M180.28,458.1V460.7M183.4,458.1V460.7M186.52,458.1V460.7M189.64,458.1V460.7M192.8,458.1V460.7M195.91,456.8V459.4M198.92,456.8V459.4M201.93,456.8V459.4M204.94,456.8V459.4M207.96,456.8V459.4M210.97,456.8V459.4M213.98,456.8V459.4M216.99,456.8V459.4M220.01,456.8V459.4M223.02,456.8V459.4M226.03,456.8V459.4M229.04,456.8V459.4M232.06,456.8V459.4M235.07,456.8V459.4M238.08,456.8V459.4M241.09,456.8V459.4" fill="none" stroke="#aaa" stroke-width="0.6"/>
<polyline points="38.8,578.1 62.5,578.1 62.8,578.1 62.8,575.4 64.4,575.4 64.4,574.6 64.8,574.6 64.8,573.5 65.5,573.5 65.5,568.8 67.1,568.8 67.1,567.3 68.2,567.3 68.2,565.8 70.2,565.8 70.2,564.6 71.7,564.6 71.7,562.7 72.5,562.7 72.5,558.8 73.5,558.8 73.5,556.7 73.9,556.7 73.9,548.8 76.3,548.8 76.3,547.8 79.2,547.8 79.2,546.8 81.2,546.8 81.2,544.4 83.1,544.4 83.1,542.5 83.8,542.5 83.8,538.9 86.1,538.9 86.1,534.3 88.4,534.3 88.4,526.2 90.1,526.2 90.1,521.6 94.1,521.6 94.1,518.2 97.5,518.2 97.5,514.8 99.8,514.8 99.8,510.7 102.7,510.7 102.7,507.9 106.7,507.9 106.7,507.3 110.2,507.3 110.2,503.3 111.3,503.3 111.3,502.5 116.9,502.5 118.1,502.5 118.1,499.6 121.5,499.6 121.5,498.5 122.7,498.5 122.7,496.7 125,496.7 126.2,496.7 126.2,495 128.5,495 128.5,493.3 148.1,493.3 149.2,493.3 149.2,491.5 153.3,491.5 153.3,491 154.4,491 154.4,488.1 156.2,488.1 156.2,487.5 165,487.5 166.6,487.5 166.6,487.8 167.5,487.8 167.5,485.9 172.4,485.9 172.4,485.5 173.2,485.5 173.2,484.2 180.5,484.2 180.5,483.9 181.3,483.9 181.3,482.3 187.1,482.3 187.1,481.8 187.9,481.8 187.9,480.1 191.2,480.1 191.2,479.8 192,479.8 192,478 212.4,478 212.4,474.7 242.6,474.7" fill="none" stroke="#111" stroke-width="1.3"/>
<path d="M298.1,439 V584.6" fill="none" stroke="#1a1a1a" stroke-width="1.15"/>
<path d="M297.6,584.6 H518.8" fill="none" stroke="#1a1a1a" stroke-width="1.4"/>
<line x1="295.1" y1="579.4" x2="298.1" y2="579.4" stroke="#111" stroke-width="1"/>
<text x="291.8" y="578.6" transform="rotate(-90 291.8 578.6)" text-anchor="middle" dominant-baseline="central" font-size="5.6" fill="#111" stroke="#111" stroke-width="0.18">0.0</text>
<line x1="295.1" y1="552.4" x2="298.1" y2="552.4" stroke="#111" stroke-width="1"/>
<text x="291.8" y="551.6" transform="rotate(-90 291.8 551.6)" text-anchor="middle" dominant-baseline="central" font-size="5.6" fill="#111" stroke="#111" stroke-width="0.18">0.2</text>
<line x1="295.1" y1="525.4" x2="298.1" y2="525.4" stroke="#111" stroke-width="1"/>
<text x="291.8" y="524.6" transform="rotate(-90 291.8 524.6)" text-anchor="middle" dominant-baseline="central" font-size="5.6" fill="#111" stroke="#111" stroke-width="0.18">0.4</text>
<line x1="295.1" y1="498.4" x2="298.1" y2="498.4" stroke="#111" stroke-width="1"/>
<text x="291.8" y="497.6" transform="rotate(-90 291.8 497.6)" text-anchor="middle" dominant-baseline="central" font-size="5.6" fill="#111" stroke="#111" stroke-width="0.18">0.6</text>
<line x1="295.1" y1="471.4" x2="298.1" y2="471.4" stroke="#111" stroke-width="1"/>
<text x="291.8" y="470.6" transform="rotate(-90 291.8 470.6)" text-anchor="middle" dominant-baseline="central" font-size="5.6" fill="#111" stroke="#111" stroke-width="0.18">0.8</text>
<line x1="295.1" y1="444.4" x2="298.1" y2="444.4" stroke="#111" stroke-width="1"/>
<text x="291.8" y="443.6" transform="rotate(-90 291.8 443.6)" text-anchor="middle" dominant-baseline="central" font-size="5.6" fill="#111" stroke="#111" stroke-width="0.18">1.0</text>
<line x1="306.1" y1="584.6" x2="306.1" y2="587.6" stroke="#111" stroke-width="1"/>
<text x="306.7" y="596.6" text-anchor="middle" dominant-baseline="central" font-size="5.6" fill="#111" stroke="#111" stroke-width="0.18">0</text>
<line x1="362.73" y1="584.6" x2="362.73" y2="587.6" stroke="#111" stroke-width="1"/>
<text x="363.33" y="596.6" text-anchor="middle" dominant-baseline="central" font-size="5.6" fill="#111" stroke="#111" stroke-width="0.18">50</text>
<line x1="419.37" y1="584.6" x2="419.37" y2="587.6" stroke="#111" stroke-width="1"/>
<text x="419.97" y="596.6" text-anchor="middle" dominant-baseline="central" font-size="5.6" fill="#111" stroke="#111" stroke-width="0.18">100</text>
<line x1="476" y1="584.6" x2="476" y2="587.6" stroke="#111" stroke-width="1"/>
<text x="476.6" y="596.6" text-anchor="middle" dominant-baseline="central" font-size="5.6" fill="#111" stroke="#111" stroke-width="0.18">150</text>
<text x="407.5" y="605.7" text-anchor="middle" dominant-baseline="central" font-size="6.1" fill="#111" stroke="#111" stroke-width="0.12">days</text>
<text x="277.7" y="511.5" transform="rotate(-90 277.7 511.5)" text-anchor="middle" dominant-baseline="central" font-size="6.05" fill="#111" stroke="#111" stroke-width="0.12">Probability of platelet engraftment</text>
<text x="272.6" y="430.2" font-size="17" font-weight="bold" fill="#000" stroke="#000" stroke-width="0.25">F</text>
<line x1="427.3" y1="516" x2="441.7" y2="516" stroke="#111" stroke-width="1.5"/>
<line x1="427.3" y1="530.6" x2="441.7" y2="530.6" stroke="#555" stroke-width="1"/>
<text x="447.6" y="519" font-size="6.35" fill="#1a1a1a" stroke="#1a1a1a" stroke-width="0.15">CD34</text>
<text x="466.2" y="518.7" font-size="5.2" fill="#1a1a1a" stroke="#1a1a1a" stroke-width="0.12">&lt;</text>
<text x="471.8" y="519" font-size="6.35" fill="#1a1a1a" stroke="#1a1a1a" stroke-width="0.15">3x106/KG</text>
<text x="447.6" y="534" font-size="6.35" fill="#1a1a1a" stroke="#1a1a1a" stroke-width="0.15">CD34</text>
<text x="466.3" y="533.4" font-size="5" fill="#1a1a1a" stroke="#1a1a1a" stroke-width="0.12">&gt;</text>
<path d="M466.3,534.4h3.3" stroke="#333" stroke-width="0.8"/>
<text x="471.8" y="534" font-size="6.35" fill="#1a1a1a" stroke="#1a1a1a" stroke-width="0.15">3x106/KG</text>
<text x="415.1" y="558.8" font-size="10.6" fill="#111" stroke="#111" stroke-width="0.3" xml:space="preserve">P=  0.0006</text>
<polyline points="306.1,579 317.2,579 318.2,579 318.2,574.9 319.7,574.9 319.7,570.8 320.2,570.8 320.2,567.3 323.3,567.3 323.3,563.7 323.8,563.7 323.8,560.1 325.3,560.1 325.3,556.6 325.8,556.6 325.8,552.5 327.4,552.5 327.4,551.5 328.4,551.5 328.4,547.4 329.9,547.4 329.9,542.4 330.4,542.4 330.4,540.3 331.9,540.3 331.9,537.3 332.4,537.3 332.4,526.1 333.7,526.1 333.7,524 335.3,524 335.3,519.7 336.4,519.7 336.4,514.4 338.5,514.4 338.5,509 342.8,509 342.8,505.8 343.9,505.8 343.9,502.1 345.5,502.1 345.5,500 346,500 346,493.6 350.3,493.6 350.3,491.4 352.9,491.4 352.9,489.3 355.6,489.3 355.6,487.2 358.3,487.2 358.3,485.6 359.9,485.6 359.9,482.9 362,482.9 362,481.9 364.1,481.9 364.1,480.8 366.8,480.8 366.8,479.7 369.4,479.7 369.4,479.2 372.6,479.2 372.6,478.7 380.4,478.7 380.4,478.3 387.1,478.3 387.1,476.9 391.2,476.9 391.2,474.9 399.2,474.9 399.2,474.2 408.6,474.2 408.6,473.6 420.8,473.6 420.8,472.2 422.1,472.2 422.1,470.9 424.8,470.9 424.8,468.8 440,468.8 440,468.2 450.8,468.2 450.8,467.5 452.1,467.5 452.1,466.6 483.1,466.6 484.4,466.6 484.4,465.5 491.1,465.5 491.1,464.8 492.5,464.8 492.5,463.5 501.9,463.5 501.9,463.1 503.3,463.1 503.3,462.5 510,462.5 510,462.4" fill="none" stroke="#1a1a1a" stroke-width="1.15"/>
<path d="M344.7,500.8V503.4M348.15,492.3V494.9M351.6,490.1V492.7M354.25,488V490.6M356.95,485.9V488.5M359.1,484.3V486.9M360.95,481.6V484.2M363.05,480.6V483.2M365.45,479.5V482.1M368.1,478.4V481M371,477.9V480.5M374.55,477.4V480M378.45,477.4V480M382.07,477V479.6M385.43,477V479.6M389.15,475.6V478.2M393.2,473.6V476.2M397.2,473.6V476.2M400.77,472.9V475.5M403.9,472.9V475.5M407.03,472.9V475.5M410.12,472.3V474.9M413.18,472.3V474.9M416.23,472.3V474.9M419.28,472.3V474.9M421.45,470.9V473.5M423.45,469.6V472.2M426.32,467.5V470.1M429.36,467.5V470.1M432.4,467.5V470.1M435.44,467.5V470.1M438.48,467.5V470.1M441.8,466.9V469.5M445.4,466.9V469.5M449,466.9V469.5M451.45,466.2V468.8M453.65,465.3V467.9M456.75,465.3V467.9M459.85,465.3V467.9M462.95,465.3V467.9M466.05,465.3V467.9M469.15,465.3V467.9M472.25,465.3V467.9M475.35,465.3V467.9M478.45,465.3V467.9M481.55,465.3V467.9M483.75,465.3V467.9M486.07,464.2V466.8M489.43,464.2V466.8M491.8,463.5V466.1M494.07,462.2V464.8M497.2,462.2V464.8M500.33,462.2V464.8M502.6,461.8V464.4M504.98,461.2V463.8M508.32,461.2V463.8" fill="none" stroke="#aaa" stroke-width="0.6"/>
<polyline points="306.1,579 319.2,579 320.2,579 320.2,574.9 321.8,574.9 321.8,572.8 323.8,572.8 323.8,569.8 325.8,569.8 325.8,567.8 327.4,567.8 327.4,564.7 329.4,564.7 329.4,560.7 330.4,560.7 330.4,554.6 331.9,554.6 331.9,550.5 332.4,550.5 332.4,542.4 335.5,542.4 335.5,541.3 338,541.3 338,538.8 339.6,538.8 339.6,536.3 341.1,536.3 341.1,532.2 343.1,532.2 343.1,530.2 346.2,530.2 346.2,529.1 346.7,529.1 346.7,521.5 348.1,521.5 348.1,519.7 349.2,519.7 349.2,517 351.3,517 351.3,514.9 354.5,514.9 354.5,512.8 362,512.8 362,512.2 364.1,512.2 364.1,511.2 391.2,511.2 391.8,511.2 391.8,508.5 399.2,508.5 400.6,508.5 400.6,506.5 403.3,506.5 403.3,505.2 406,505.2 406,503.2 410,503.2 410,500.5 422.1,500.5 422.1,499.8 423.5,499.8 423.5,496.4 439.6,496.4 439.6,495.8 441,495.8 441,494.1 454.8,494.1 454.8,493.7 456.2,493.7 456.2,491 457.5,491 457.5,489.7 493.8,489.7 494.5,489.7 494.5,488.4 510,488.4" fill="none" stroke="#111" stroke-width="1.3"/>
</svg>
</body></html>
